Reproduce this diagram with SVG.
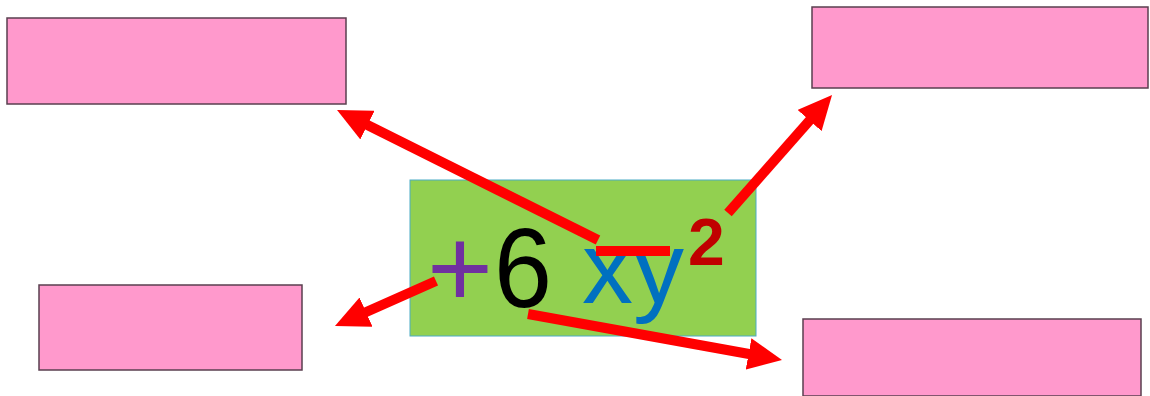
<svg xmlns="http://www.w3.org/2000/svg" width="1150" height="396" viewBox="0 0 1150 396">
<style>
.box{fill:#FF99CC;stroke:#5a3f4f;stroke-width:1.5}
.conn{stroke:#FF0000;stroke-width:10;fill:none}
.t{font-family:"Liberation Sans",Arial,sans-serif}
</style>
<defs>
<marker id="ah" markerUnits="userSpaceOnUse" markerWidth="34" markerHeight="32" refX="9" refY="16" orient="auto" viewBox="0 0 34 32">
<path d="M0,0 L34,16 L0,32 z" fill="#FF0000"/>
</marker>
</defs>
<rect width="1150" height="396" fill="#ffffff"/>
<g id="box-top-left"><rect class="box" x="7" y="18" width="339" height="86"/></g>
<g id="box-top-right"><rect class="box" x="812" y="7" width="336" height="81"/></g>
<g id="box-bottom-left"><rect class="box" x="39" y="285" width="263" height="85"/></g>
<g id="box-bottom-right"><rect class="box" x="803" y="319" width="338" height="77"/></g>
<g id="term">
<rect x="410" y="180" width="346" height="156" fill="#92D050" stroke="#4bacc6" stroke-width="1"/>
<text class="t" x="427" y="307" font-size="113" fill="#7030A0">+</text>
<text class="t" x="494" y="307" font-size="113" fill="#000000" textLength="58" lengthAdjust="spacingAndGlyphs">6</text>
<text class="t" x="582" y="303" font-size="102" fill="#0070C0">xy</text>
<text class="t" x="688" y="265" font-size="66" font-weight="bold" fill="#C00000">2</text>
</g>
<g id="connectors">
<line class="conn" x1="596" y1="251" x2="670" y2="251"/>
<line class="conn" x1="598" y1="240" x2="359.4" y2="121.1" marker-end="url(#ah)"/>
<line class="conn" x1="728" y1="213" x2="815.5" y2="113.8" marker-end="url(#ah)"/>
<line class="conn" x1="436" y1="281" x2="357.8" y2="315.8" marker-end="url(#ah)"/>
<line class="conn" x1="528" y1="314" x2="757.4" y2="355.5" marker-end="url(#ah)"/>
</g>
</svg>
